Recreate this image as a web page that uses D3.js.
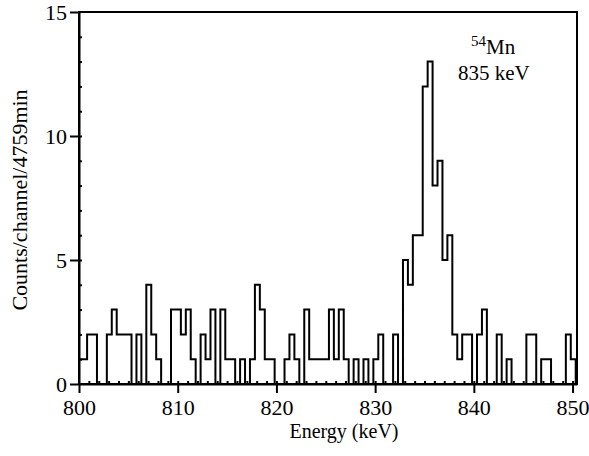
<!doctype html>
<html lang="en">
  <head>
    <meta charset="UTF-8" />
    <title>54Mn 835 keV spectrum</title>
    <script src="https://d3js.org/d3.v7.min.js"></script>
    <style>
      body,
      html {
        margin: 0;
        padding: 0;
        background: #fff;
      }
      svg {
        display: block;
        font-family: "Liberation Serif", "Times New Roman", serif;
      }
      .axis path,
      .axis line {
        stroke: #000;
        stroke-width: 2px;
      }
      .axis text {
        font-family: "Liberation Serif", "Times New Roman", serif;
        font-size: 22px;
        fill: #000;
      }
    </style>
  </head>
  <body>
    <svg id="chart" width="589" height="456"></svg>
    <script>
      // counts per channel, channels of 0.5 keV starting at 799.82 keV
      const startEnergy = 799.82;
      const channelWidth = 0.5;
      const counts = [
        1, 1, 2, 2, 0, 0, 2, 3, 2, 2,
        2, 0, 2, 0, 4, 2, 1, 0, 0, 3,
        3, 2, 3, 1, 0, 2, 1, 3, 0, 3,
        1, 1, 0, 1, 0, 1, 4, 3, 1, 1,
        0, 0, 1, 2, 1, 0, 3, 1, 1, 1,
        1, 3, 1, 3, 1, 0, 1, 0, 1, 0,
        1, 2, 0, 0, 2, 0, 5, 4, 6, 6,
        12, 13, 8, 9, 5, 6, 2, 1, 2, 2,
        0, 2, 3, 0, 0, 2, 0, 1, 0, 0,
        0, 2, 2, 0, 1, 1, 0, 0, 0, 2, 1
      ];
      const xTicks = [800, 810, 820, 830, 840, 850];
      const yTicks = [0, 5, 10, 15];
      const xMinorTicks = d3.range(801, 851);
      const yMinorTicks = d3.range(1, 15);

      const svg = d3.select("#chart");
      const plotLeft = 79, plotRight = 577, plotTop = 12, plotBottom = 384;

      const x = d3.scaleLinear().domain([800, 850.45]).range([plotLeft, plotRight]);
      const y = d3.scaleLinear().domain([0, 15]).range([plotBottom, plotTop]);

      svg.append("defs").append("clipPath").attr("id", "plot")
        .append("rect")
        .attr("x", plotLeft).attr("y", plotTop)
        .attr("width", plotRight - plotLeft).attr("height", plotBottom - plotTop);

      // step outline of the spectrum
      const pts = counts.map((c, i) => [startEnergy + i * channelWidth, c]);
      const endE = startEnergy + counts.length * channelWidth;
      pts.push([endE, counts[counts.length - 1]]);
      pts.push([endE, 0]);

      const line = d3.line()
        .x((d) => x(d[0]))
        .y((d) => y(d[1]))
        .curve(d3.curveStepAfter);

      svg.append("path")
        .datum(pts)
        .attr("clip-path", "url(#plot)")
        .attr("fill", "none")
        .attr("stroke", "#000")
        .attr("stroke-width", 2)
        .attr("d", line);

      // minor ticks (inward)
      svg.append("g")
        .attr("class", "axis")
        .attr("transform", `translate(0,${plotBottom})`)
        .call(d3.axisBottom(x).tickValues(xMinorTicks).tickSize(-3).tickFormat(""))
        .call((g) => g.select(".domain").remove())
        .selectAll("line").attr("stroke-width", 1);

      svg.append("g")
        .attr("class", "axis")
        .attr("transform", `translate(${plotLeft},0)`)
        .call(d3.axisLeft(y).tickValues(yMinorTicks).tickSize(-3).tickFormat(""))
        .call((g) => g.select(".domain").remove())
        .selectAll("line").attr("stroke-width", 1);

      // major axes
      svg.append("g")
        .attr("class", "axis")
        .attr("transform", `translate(0,${plotBottom})`)
        .call(d3.axisBottom(x).tickValues(xTicks).tickSize(9).tickSizeOuter(0).tickPadding(6).tickFormat(d3.format("d")));

      svg.append("g")
        .attr("class", "axis")
        .attr("transform", `translate(${plotLeft},0)`)
        .call(d3.axisLeft(y).tickValues(yTicks).tickSize(9).tickSizeOuter(0).tickPadding(3).tickFormat(d3.format("d")));

      // frame
      svg.append("rect")
        .attr("x", plotLeft).attr("y", plotTop)
        .attr("width", plotRight - plotLeft).attr("height", plotBottom - plotTop)
        .attr("fill", "none")
        .attr("stroke", "#000")
        .attr("stroke-width", 2);

      // axis titles
      svg.append("text")
        .attr("x", (plotLeft + plotRight) / 2 + 16)
        .attr("y", 438)
        .attr("text-anchor", "middle")
        .attr("font-size", 20)
        .text("Energy (keV)");

      svg.append("text")
        .attr("transform", `translate(27,${(plotTop + plotBottom) / 2 + 2}) rotate(-90)`)
        .attr("text-anchor", "middle")
        .attr("font-size", 22)
        .text("Counts/channel/4759min");

      // peak annotation
      const note = svg.append("text")
        .attr("x", 471)
        .attr("y", 54)
        .attr("font-size", 21);
      note.append("tspan").attr("font-size", 15).attr("dy", -8).text("54");
      note.append("tspan").attr("dy", 8).text("Mn");

      svg.append("text")
        .attr("x", 458)
        .attr("y", 80)
        .attr("font-size", 21)
        .text("835 keV");
    </script>
  </body>
</html>
